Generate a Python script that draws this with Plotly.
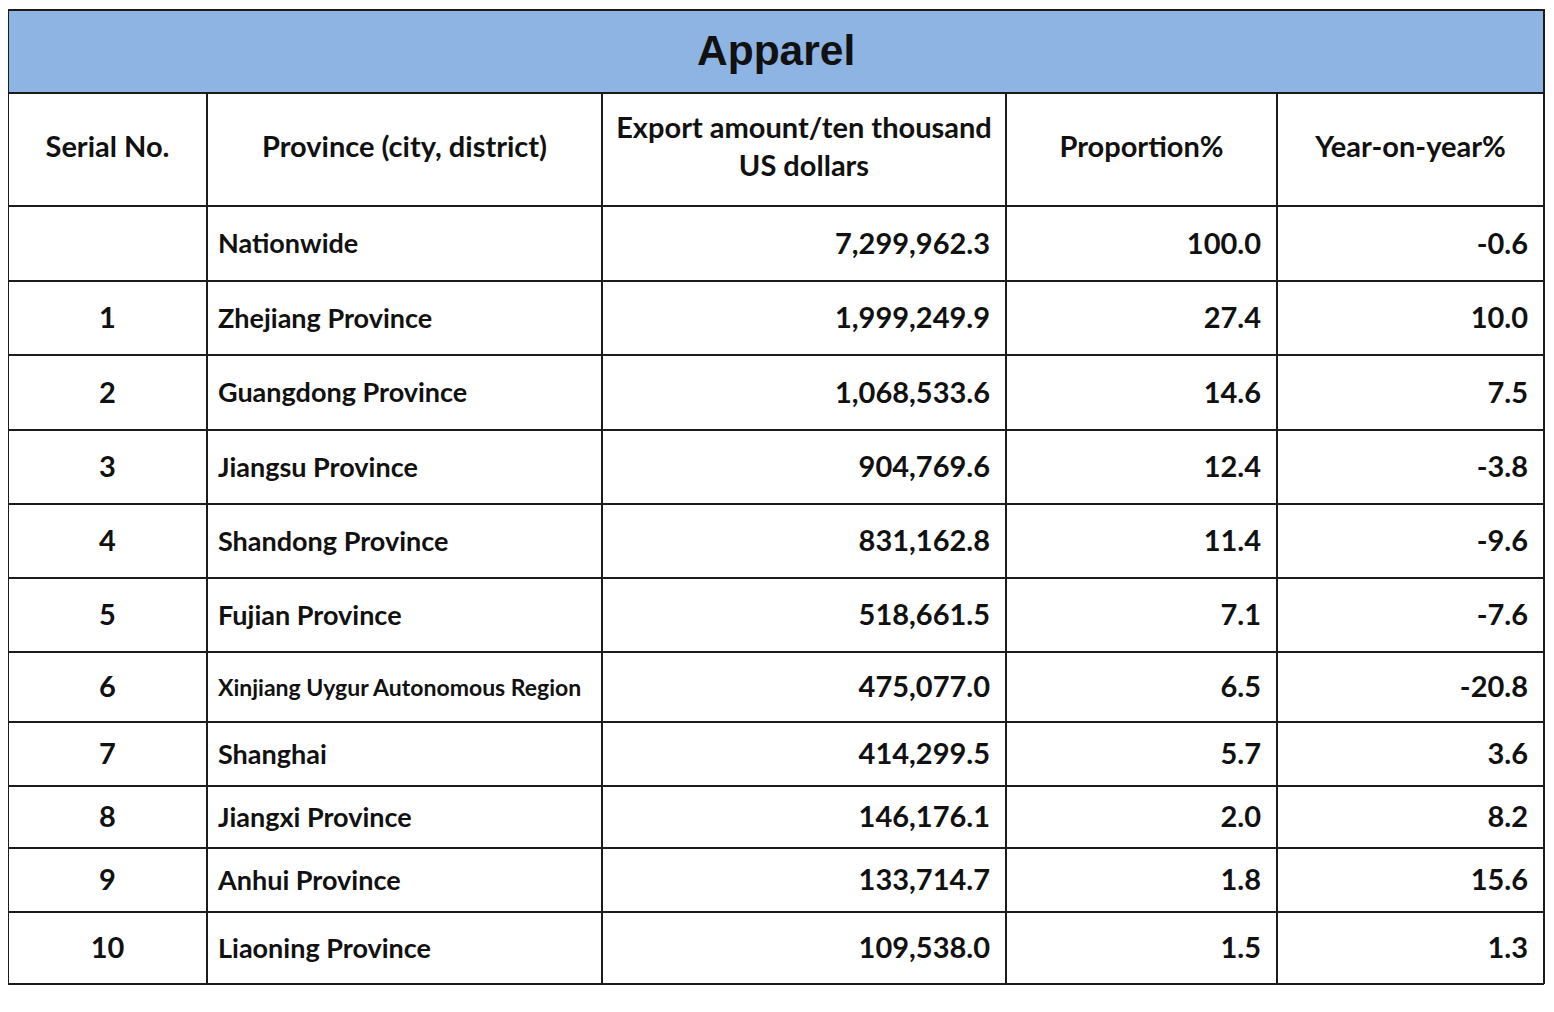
import numpy as np
import plotly.graph_objects as go

# table contents
title = "Apparel"
headers = ["Serial No.", "Province (city, district)",
           "Export amount/ten thousand<br>US dollars", "Proportion%", "Year-on-year%"]
serial_no = [None, 1, 2, 3, 4, 5, 6, 7, 8, 9, 10]
provinces = ["Nationwide", "Zhejiang Province", "Guangdong Province", "Jiangsu Province",
             "Shandong Province", "Fujian Province", "Xinjiang Uygur Autonomous Region",
             "Shanghai", "Jiangxi Province", "Anhui Province", "Liaoning Province"]
export_amount = [7299962.3, 1999249.9, 1068533.6, 904769.6, 831162.8, 518661.5,
                 475077.0, 414299.5, 146176.1, 133714.7, 109538.0]
proportion = [100.0, 27.4, 14.6, 12.4, 11.4, 7.1, 6.5, 5.7, 2.0, 1.8, 1.5]
yoy = [-0.6, 10.0, 7.5, -3.8, -9.6, -7.6, -20.8, 3.6, 8.2, 15.6, 1.3]

# layout, in page pixels (the page body puts the figure 8px in)
PAGE_OFF = 8
FIG_W, FIG_H = 1540, 994
col_edges = [8, 207, 602, 1006, 1277, 1544]
col_align = ["center", "left", "right", "right", "right"]
band_top, header_top, body_top = 10, 93, 206
row_heights = [75, 74, 75, 74, 74, 74, 70, 64, 62, 64, 72]
pad_left, pad_right = 11, 16
text_dy = 3  # nudge body text down to sit in the middle of the row

FONT = "Lato, Roboto, 'Liberation Sans', sans-serif"
LINE = "#1c1c1c"
TEXT = "#111111"
BAND = "#8db4e2"
NAME_SIZE = 27        # province names
LONG_NAME_SIZE = 23   # names that would overflow the column
NUM_SIZE = 29         # serial numbers and figures
HEADER_SIZE = 29

row_lines = body_top + np.concatenate([[0], np.cumsum(row_heights)])
row_mid = (row_lines[:-1] + row_lines[1:]) / 2 + text_dy
bottom = row_lines[-1]

columns = [
    ["" if s is None else str(s) for s in serial_no],
    provinces,
    ["{:,.1f}".format(v) for v in export_amount],
    ["{:.1f}".format(v) for v in proportion],
    ["{:.1f}".format(v) for v in yoy],
]
name_sizes = [LONG_NAME_SIZE if len(p) > 25 else NAME_SIZE for p in provinces]
col_sizes = [NUM_SIZE, name_sizes, NUM_SIZE, NUM_SIZE, NUM_SIZE]

fig = go.Figure()

for i, (texts, align) in enumerate(zip(columns, col_align)):
    x0, x1 = col_edges[i], col_edges[i + 1]
    if align == "center":
        x, pos = (x0 + x1) / 2, "middle center"
    elif align == "left":
        x, pos = x0 + pad_left, "middle right"
    else:
        x, pos = x1 - pad_right, "middle left"
    fig.add_trace(go.Scatter(
        x=[x] * len(texts), y=row_mid, text=texts, mode="text", textposition=pos,
        textfont=dict(family=FONT, size=col_sizes[i], color=TEXT, weight="bold"),
        hoverinfo="skip", showlegend=False))
    # column header
    fig.add_trace(go.Scatter(
        x=[(x0 + x1) / 2], y=[(header_top + body_top) / 2], text=[headers[i]],
        mode="text", textposition="middle center",
        textfont=dict(family=FONT, size=HEADER_SIZE, color=TEXT, weight="bold"),
        hoverinfo="skip", showlegend=False))

# title band
fig.add_shape(type="rect", x0=col_edges[0], x1=col_edges[-1], y0=band_top, y1=header_top,
              fillcolor=BAND, line=dict(color=LINE, width=2), layer="below")
fig.add_annotation(x=(col_edges[0] + col_edges[-1]) / 2, y=(band_top + header_top) / 2 - 1,
                   text="<b>%s</b>" % title, showarrow=False,
                   font=dict(family="'Liberation Sans', Arial, sans-serif", size=42.5, color=TEXT),
                   xanchor="center", yanchor="middle")

# grid lines
for y in [header_top] + list(row_lines):
    fig.add_shape(type="line", x0=col_edges[0], x1=col_edges[-1], y0=y, y1=y,
                  line=dict(color=LINE, width=2))
for x in col_edges:
    fig.add_shape(type="line", x0=x, x1=x, y0=header_top, y1=bottom,
                  line=dict(color=LINE, width=2))

fig.update_xaxes(range=[PAGE_OFF, PAGE_OFF + FIG_W], visible=False, fixedrange=True)
fig.update_yaxes(range=[PAGE_OFF + FIG_H, PAGE_OFF], visible=False, fixedrange=True)

fig.update_layout(
    width=FIG_W, height=FIG_H,
    margin=dict(l=0, r=0, t=0, b=0),
    paper_bgcolor="white",
    plot_bgcolor="white",
)

fig.write_html("out.html")
